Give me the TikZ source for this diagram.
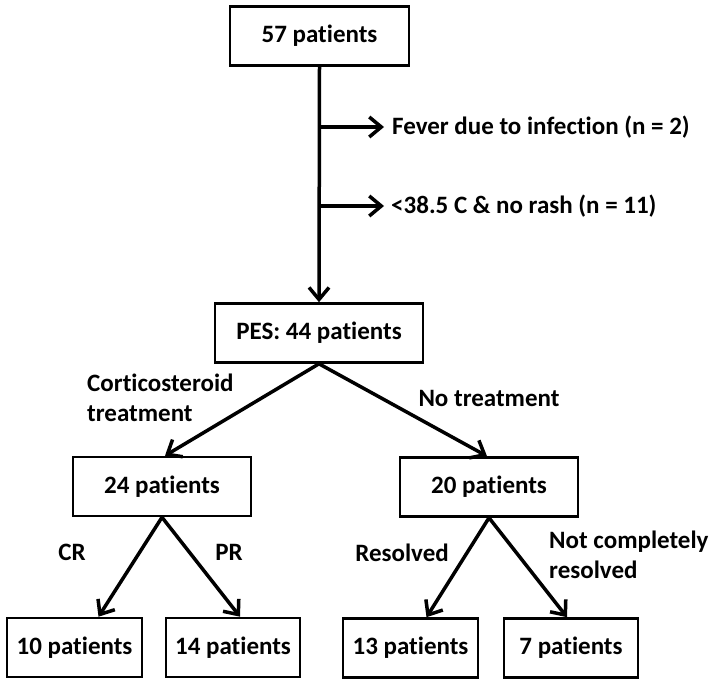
\documentclass[tikz,border=0pt]{standalone}
\usepackage{fontspec}
\setmainfont{Carlito}[Ligatures={NoCommon}]
\usetikzlibrary{arrows.meta, positioning}

\begin{document}
\begin{tikzpicture}[
        x=1pt, y=-1pt,
        box/.style={draw, line width=2.6pt, font=\fontsize{25}{30}\selectfont\bfseries, minimum height=59pt, inner sep=0pt},
        lbl/.style={font=\fontsize{25}{30}\selectfont\bfseries, align=left, inner sep=0pt},
        arrow/.style={-{Straight Barb[length=12pt, width=20pt]}, line width=3.5pt}
    ]
    \useasboundingbox (0,0) rectangle (714,685);

    % Nodes
    \node[box, minimum width=179pt] (total) at (319.5,36) {57 patients};
    \node[box, minimum width=208pt] (pes) at (319,333) {PES: 44 patients};
    \node[box, minimum width=178pt] (steroid) at (162,486.5) {24 patients};
    \node[box, minimum width=178pt] (notreat) at (489,487) {20 patients};
    \node[box, minimum width=135pt] (cr) at (74.5,647.5) {10 patients};
    \node[box, minimum width=134pt] (pr) at (233,647.5) {14 patients};
    \node[box, minimum width=135pt] (resolved) at (410.5,648) {13 patients};
    \node[box, minimum width=134pt] (notresolved) at (571,648) {7 patients};

    % Exclusions
    \coordinate (exc1) at (320,127);
    \coordinate (exc2) at (320,206);
    \node[lbl, anchor=west] (infection) at (392,127) {Fever due to infection (n = 2)};
    \node[lbl, anchor=west] (norash) at (391,206) {<38.5 C \& no rash (n = 11)};

    % Connections
    \draw[arrow] (total.south) -- (pes.north);
    \draw[arrow] (exc1) -- ([xshift=-8pt]infection.west);
    \draw[arrow] (exc2) -- ([xshift=-7pt]norash.west);
    \draw[arrow] (pes.south) -- ([xshift=3pt]steroid.north);
    \draw[arrow] (pes.south) -- ([xshift=-2pt]notreat.north);
    \draw[arrow] (steroid.south) -- ([xshift=24pt]cr.north);
    \draw[arrow] (steroid.south) -- ([xshift=7pt]pr.north);
    \draw[arrow] (notreat.south) -- ([xshift=16pt]resolved.north);
    \draw[arrow] (notreat.south) -- ([xshift=-4pt]notresolved.north);

    % Branch labels
    \node[lbl, anchor=west] (lsteroid) at (87,398) {Corticosteroid\\treatment};
    \node[lbl] (lnotreat) at (489,398) {No treatment};
    \node[lbl] (lcr) at (72,552) {CR};
    \node[lbl] (lpr) at (229,552) {PR};
    \node[lbl] (lresolved) at (402,553) {Resolved};
    \node[lbl, anchor=west] (lnotresolved) at (549,555) {Not completely\\resolved};
\end{tikzpicture}
\end{document}
